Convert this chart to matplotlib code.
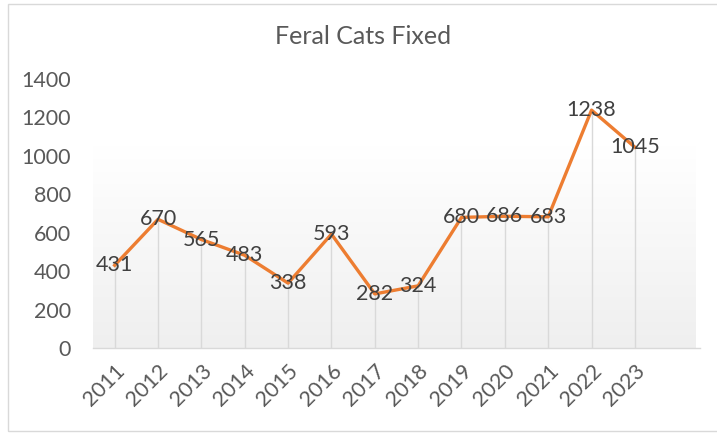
import numpy as np
import matplotlib.pyplot as plt
from matplotlib.patches import Rectangle

years = ['2011', '2012', '2013', '2014', '2015', '2016', '2017',
         '2018', '2019', '2020', '2021', '2022', '2023']
cats_fixed = [431, 670, 565, 483, 338, 593, 282, 324, 680, 686, 683, 1238, 1045]

plt.rcParams['font.family'] = ['Lato', 'DejaVu Sans']

fig = plt.figure(figsize=(7.17, 4.33), dpi=100)
ax = fig.add_axes([0.1297, 0.196, 0.8465, 0.6216])

x = np.arange(len(years))

# soft gray gradient behind the lower part of the plot
grad = np.linspace(0, 1, 256).reshape(-1, 1)
ax.imshow(grad, cmap=plt.cm.colors.LinearSegmentedColormap.from_list(
    'g', ['#efefef', '#ffffff']), origin='lower', aspect='auto',
    extent=(-0.5, 13.4, 0, 1050), zorder=0)

# drop lines
ax.vlines(x, 0, cats_fixed, color='#d9d9d9', lw=1.0, zorder=1)
ax.plot(x, cats_fixed, color='#ED7D31', lw=2.4, zorder=2,
        solid_joinstyle='round')

for xi, v in zip(x, cats_fixed):
    ax.text(xi, v, str(v), ha='center', va='center', fontsize=15.5,
            color='#404040', zorder=3)

ax.set_xlim(-0.5, 13.5)
ax.set_ylim(0, 1400)
ax.set_yticks(range(0, 1401, 200))
ax.set_xticks(x)
ax.set_xticklabels(years, rotation=45, ha='right', rotation_mode='anchor')
ax.tick_params(axis='both', length=0, labelsize=15.5, colors='#595959')
ax.tick_params(axis='y', pad=16)
ax.tick_params(axis='x', pad=9)

for s in ['top', 'right', 'left']:
    ax.spines[s].set_visible(False)
ax.spines['bottom'].set_color('#d9d9d9')
ax.spines['bottom'].set_linewidth(1.0)

fig.text(0.507, 0.915, 'Feral Cats Fixed', ha='center', va='center',
         fontsize=18, color='#595959')

# chart border
fig.patches.append(Rectangle((0.011, 0.004), 1.1, 0.987,
                             transform=fig.transFigure, fill=False,
                             edgecolor='#d9d9d9', lw=1.0))

fig.savefig('out.png', dpi=100)
